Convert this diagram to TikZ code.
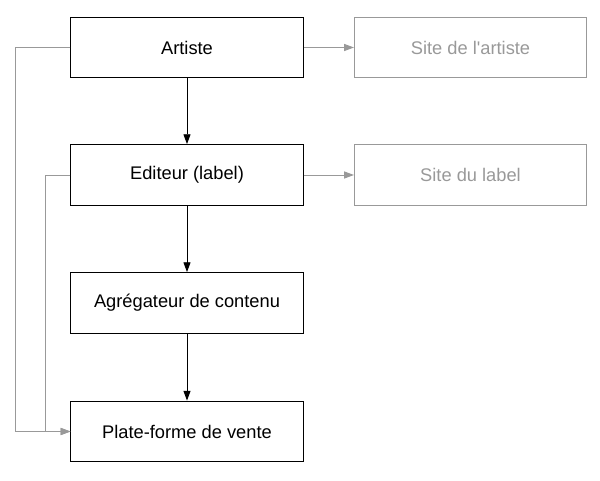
\documentclass[tikz,border=0pt]{standalone}
\usepackage{fontspec}
\setmainfont{Liberation Sans}
\usepackage{xcolor}
\usetikzlibrary{arrows.meta, positioning}
\definecolor{chaingray}{HTML}{999999}
\definecolor{chainblack}{HTML}{000000}

\begin{document}
\begin{tikzpicture}[x=0.025cm, y=0.025cm,
  frame/.style={draw=chainblack, line width=0.7pt, minimum width=5.8cm, minimum height=1.52cm, align=center, font=\fontsize{13}{15}\selectfont, inner sep=0pt},
  site/.style={frame, draw=chaingray, text=chaingray},
  flow/.style={draw=chainblack, line width=0.7pt, -{Triangle[length=7pt, width=5pt]}},
  link/.style={draw=chaingray, line width=0.7pt, -{Triangle[length=7pt, width=5pt]}}
]
\useasboundingbox (0,0) rectangle (600,481);

\node[frame] (art) at (187,433.5) {Artiste};
\node[frame] (edit) at (187,306) {Editeur (label)};
\node[frame] (agr) at (187,178) {Agrégateur de contenu};
\node[frame] (plat) at (187,49.5) {Plate-forme de vente};

\node[site] (siteart) at (470.5,433.5) {Site de l\textquotesingle artiste};
\node[site] (sitelab) at (470.5,306) {Site du label};

\draw[flow] (art) -- (edit);
\draw[flow] (edit) -- (agr);
\draw[flow] (agr) -- (plat);

\draw[link] (art) -- (siteart);
\draw[link] (edit) -- (sitelab);

\draw[link] (art.west) -- ++(-55,0) |- (plat.west);
\draw[link] (edit.west) -- ++(-25,0) |- (plat.west);
\end{tikzpicture}
\end{document}
